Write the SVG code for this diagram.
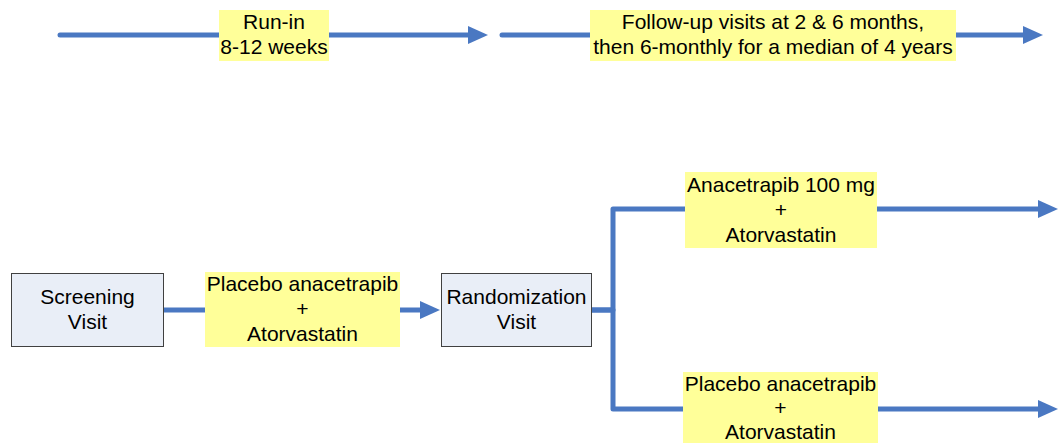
<svg xmlns="http://www.w3.org/2000/svg" width="1058" height="443" viewBox="0 0 1058 443">
<style>
.t{font-family:"Liberation Sans",Arial,sans-serif;font-size:21px;fill:#000;text-anchor:middle}
.lbl{fill:#FFFF99}
.box{fill:#E9EEF7;stroke:#404040;stroke-width:1}
.ln{fill:none;stroke:#4A78C2;stroke-width:5;stroke-linejoin:round}
</style>
<defs>
<marker id="ah" viewBox="0 0 20 18" refX="5" refY="9" markerWidth="20" markerHeight="18" markerUnits="userSpaceOnUse" orient="auto">
<path d="M0,0 L20,9 L0,18 z" fill="#4A78C2"/>
</marker>
</defs>
<g id="connectors">
<path class="ln" d="M60,35 H473" stroke-linecap="round" marker-end="url(#ah)"/>
<path class="ln" d="M502,35 H1028" stroke-linecap="round" marker-end="url(#ah)"/>
<path class="ln" d="M164,310 H425" marker-end="url(#ah)"/>
<path class="ln" d="M592,310 H613 V209 H1043" marker-end="url(#ah)"/>
<path class="ln" d="M592,310 H613 V409 H1043" marker-end="url(#ah)"/>
</g>
<g id="label-runin">
<rect class="lbl" x="219" y="10" width="110" height="51"/>
<text class="t" x="274" y="29">Run-in</text>
<text class="t" x="274" y="54">8-12 weeks</text>
</g>
<g id="label-followup">
<rect class="lbl" x="590" y="10" width="366" height="51"/>
<text class="t" x="773" y="29">Follow-up visits at 2 &amp; 6 months,</text>
<text class="t" x="773" y="54">then 6-monthly for a median of 4 years</text>
</g>
<g id="screening">
<rect class="box" x="11.5" y="273.5" width="152" height="73"/>
<text class="t" x="87.5" y="304">Screening</text>
<text class="t" x="87.5" y="329">Visit</text>
</g>
<g id="label-runin-treatment">
<rect class="lbl" x="205" y="272" width="195" height="75"/>
<text class="t" x="302.5" y="291">Placebo anacetrapib</text>
<text class="t" x="302.5" y="316">+</text>
<text class="t" x="302.5" y="341">Atorvastatin</text>
</g>
<g id="randomization">
<rect class="box" x="441.5" y="273.5" width="150" height="73"/>
<text class="t" x="516.5" y="304">Randomization</text>
<text class="t" x="516.5" y="329">Visit</text>
</g>
<g id="label-anacetrapib">
<rect class="lbl" x="685" y="172" width="192" height="76"/>
<text class="t" x="781" y="192">Anacetrapib 100 mg</text>
<text class="t" x="781" y="217">+</text>
<text class="t" x="781" y="242">Atorvastatin</text>
</g>
<g id="label-placebo">
<rect class="lbl" x="683" y="372" width="195" height="71"/>
<text class="t" x="780.5" y="391">Placebo anacetrapib</text>
<text class="t" x="780.5" y="415">+</text>
<text class="t" x="780.5" y="439">Atorvastatin</text>
</g>
</svg>
